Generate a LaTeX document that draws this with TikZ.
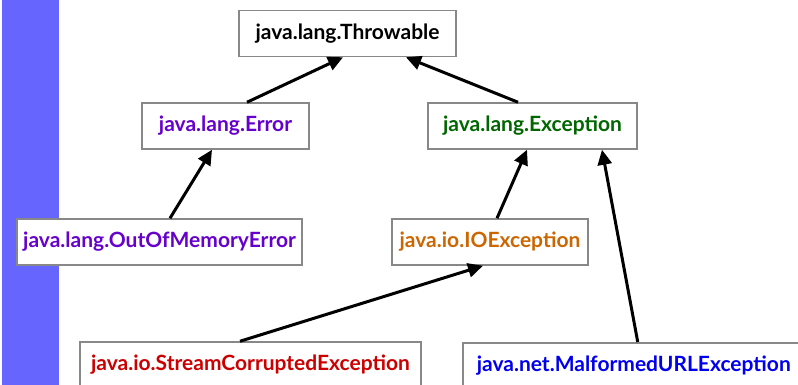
\documentclass[tikz,border=0pt]{standalone}
\usepackage{fontspec}
\setmainfont{Lato}
\usetikzlibrary{arrows.meta}
\definecolor{barblue}{HTML}{6666FF}
\definecolor{boxgray}{HTML}{888888}
\definecolor{errpurple}{HTML}{6600CC}
\definecolor{excgreen}{HTML}{006600}
\definecolor{ioorange}{HTML}{CC6600}
\definecolor{streamred}{HTML}{CC0000}
\definecolor{netblue}{HTML}{0000EE}
\tikzset{
  cls/.style={draw=boxgray, line width=1.5pt, fill=white, inner sep=0pt,
    minimum height=46pt, font=\fontsize{21}{25}\selectfont\bfseries},
  inherits/.style={line width=3pt, -{Triangle[length=15pt,width=14pt]}}
}
\begin{document}
\begin{tikzpicture}[x=1pt, y=-1pt]
\useasboundingbox (0,0) rectangle (798,385);
\clip (0,0) rectangle (798,385);
% side bar
\fill[barblue] (2,-5) rectangle (59,390);
% class boxes
\node[cls, minimum width=217pt] (thr) at (347.5,33.5) {java.lang.Throwable};
\node[cls, minimum width=167pt, text=errpurple] (err) at (225.5,126) {java.lang.Error};
\node[cls, minimum width=209pt, text=excgreen] (exc) at (532.5,126) {java.lang.Exception};
\node[cls, minimum width=285pt, text=errpurple] (oom) at (159.5,242) {java.lang.OutOfMemoryError};
\node[cls, minimum width=196pt, text=ioorange] (ioe) at (490,242) {java.io.IOException};
\node[cls, minimum width=341pt, text=streamred] (sce) at (250.5,365) {java.io.StreamCorruptedException};
\node[cls, anchor=north west, inner xsep=14pt, text width=330pt, align=left, text=netblue] (mal) at (462,342) {java.net.MalformedURLException};
% inheritance arrows
\draw[inherits] ([xshift=21.5pt]err.north) -- ([xshift=-4.5pt]thr.south);
\draw[inherits] ([xshift=-14.5pt]exc.north) -- ([xshift=58.5pt]thr.south);
\draw[inherits] ([xshift=10.5pt]oom.north) -- ([xshift=-13.5pt]err.south);
\draw[inherits] ([xshift=7pt]ioe.north) -- ([xshift=-5.5pt]exc.south);
\draw[inherits] ([xshift=-4pt]mal.north) -- ([xshift=69.5pt]exc.south);
\draw[inherits] ([xshift=-10.5pt]sce.north) -- ([xshift=-7pt]ioe.south);
\end{tikzpicture}
\end{document}
